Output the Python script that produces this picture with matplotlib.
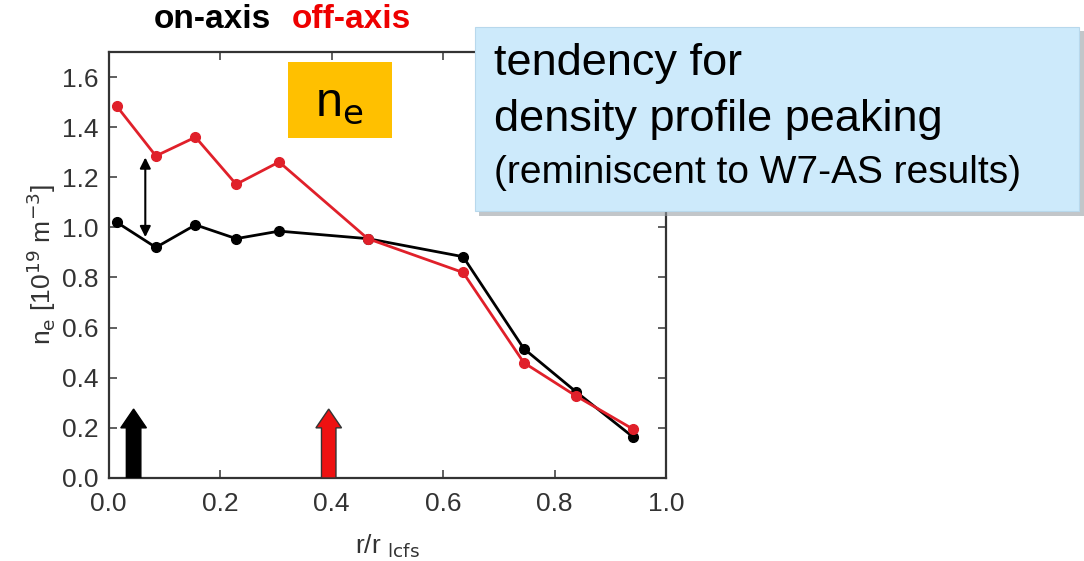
import matplotlib
matplotlib.use("Agg")
import matplotlib.pyplot as plt
from matplotlib.patches import FancyArrow, Rectangle

# data
r = [0.015, 0.085, 0.156, 0.229, 0.306, 0.465, 0.636, 0.745, 0.838, 0.94]
ne_on = [1.02, 0.92, 1.01, 0.955, 0.985, 0.955, 0.883, 0.516, 0.345, 0.165]
ne_off = [1.483, 1.285, 1.36, 1.172, 1.261, 0.955, 0.82, 0.46, 0.328, 0.196]
xticks = [0.0, 0.2, 0.4, 0.6, 0.8, 1.0]
yticks = [0.0, 0.2, 0.4, 0.6, 0.8, 1.0, 1.2, 1.4, 1.6]
heating_on = 0.045
heating_off = 0.395

tickfont = "Liberation Sans"

fig = plt.figure(figsize=(10.84, 5.61), dpi=100)
ax = fig.add_axes([0.1001, 0.148, 0.5143, 0.7594])
ax.plot(r, ne_on, color="black", lw=2, marker="o", ms=7, zorder=3)
ax.plot(r, ne_off, color="#e0202a", lw=2, marker="o", ms=7, zorder=3)
ax.set_xlim(0, 1.0)
ax.set_ylim(0, 1.7)
ax.set_xticks(xticks)
ax.set_yticks(yticks)
ax.set_xticklabels([f"{v:.1f}" for v in xticks], fontsize=19, family=tickfont, color="#333333")
ax.set_yticklabels([f"{v:.1f}" for v in yticks], fontsize=19, family=tickfont, color="#333333")
ax.tick_params(direction="in", top=True, right=True, length=6, width=1.2, color="#444444")
ax.tick_params(axis="x", pad=10)
ax.tick_params(axis="y", pad=7)
for s in ax.spines.values():
    s.set_linewidth(1.6)
    s.set_color("#333333")

ax.set_xlabel(r"r/r $_{\rm lcfs}$", fontsize=19, family=tickfont, color="#333333", labelpad=12)
ax.set_ylabel(r"n$_{\rm e}$ [10$^{19}$ m$^{-3}$]", fontsize=19, family=tickfont, color="#333333", labelpad=3)

# heating arrows
ax.add_patch(FancyArrow(heating_on, 0.0, 0, 0.275, width=0.026, head_width=0.046, head_length=0.075,
                        length_includes_head=True, color="black", zorder=4))
ax.add_patch(FancyArrow(heating_off, 0.0, 0, 0.275, width=0.026, head_width=0.046, head_length=0.075,
                        length_includes_head=True, facecolor="#ee1111", edgecolor="#333333", lw=1, zorder=4))
# double-headed arrow
ax.annotate("", xy=(0.066, 0.95), xytext=(0.066, 1.29),
            arrowprops=dict(arrowstyle="<|-|>", color="black", lw=1.5, mutation_scale=16))

# titles
fig.text(212 / 1084, 1 - 19 / 561, "on-axis", fontsize=24, fontweight="bold", color="black",
         family="Liberation Sans", ha="center", va="center")
fig.text(351 / 1084, 1 - 19 / 561, "off-axis", fontsize=24, fontweight="bold", color="#ee0000",
         family="Liberation Sans", ha="center", va="center")

# n_e box
fig.patches.append(Rectangle((288 / 1084, 1 - 138 / 561), 104 / 1084, 76 / 561,
                             transform=fig.transFigure, facecolor="#ffc000", edgecolor="none", zorder=5))
fig.text(339 / 1084, 1 - 104 / 561, r"n$_{\rm e}$", fontsize=35, family="Liberation Sans",
         ha="center", va="center", zorder=6)

# blue text box with shadow
fig.patches.append(Rectangle((479 / 1084, 1 - 216 / 561), 605 / 1084, 185 / 561,
                             transform=fig.transFigure, facecolor="#9aa0a6", edgecolor="none",
                             alpha=0.6, zorder=5))
fig.patches.append(Rectangle((475 / 1084, 1 - 211 / 561), 604 / 1084, 184 / 561,
                             transform=fig.transFigure, facecolor="#cdeafb", edgecolor="#b8d8ec",
                             lw=0.8, zorder=6))
fig.text(494 / 1084, 1 - 63 / 561, "tendency for", fontsize=32.5, family="Liberation Sans",
         ha="left", va="center", zorder=7)
fig.text(494 / 1084, 1 - 119 / 561, "density profile peaking", fontsize=32.5, family="Liberation Sans",
         ha="left", va="center", zorder=7)
fig.text(494 / 1084, 1 - 173 / 561, "(reminiscent to W7-AS results)", fontsize=28, family="Liberation Sans",
         ha="left", va="center", zorder=7)

fig.savefig("out.png", dpi=100)
